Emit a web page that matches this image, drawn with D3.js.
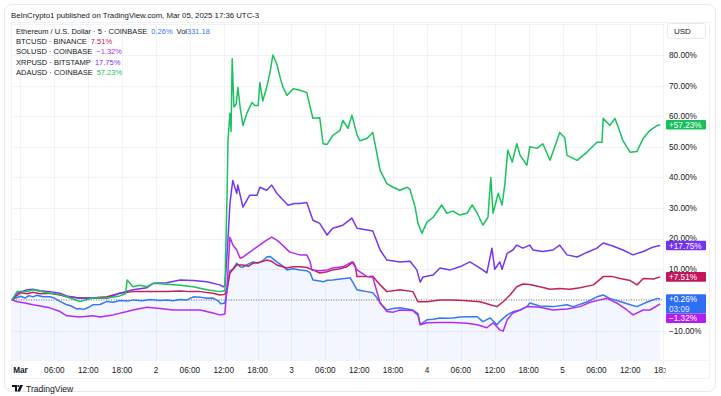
<!DOCTYPE html>
<html>
<head>
<meta charset="utf-8">
<script src="https://cdn.jsdelivr.net/npm/d3@7/dist/d3.min.js"></script>
<style>
html,body{margin:0;padding:0;background:#fff;}
svg{display:block;font-family:"Liberation Sans",Arial,sans-serif;}
</style>
</head>
<body>
<svg id="chart" width="721" height="396"></svg>
<script>
// ---- data: [hours since Mar 1 00:00 (UTC-3), % change] ----
const eth = [[-1.5,0],[-0.6,0.8],[0,1.2],[0.8,0.6],[1.5,1.4],[2.2,1.0],[2.9,1.5],[4,1.0],[5.2,1.0],[6,0.6],[7,-0.5],[8.1,-1.5],[9,-2.0],[10,-3.0],[10.5,-2.8],[11.2,-3.1],[12,-2.5],[12.8,-1.6],[14.1,-1.5],[15.3,-0.5],[16.4,-0.8],[17.6,-0.2],[19,-0.4],[20,0],[21.5,-0.3],[23,0.1],[24.7,-0.2],[26,0],[27,-0.3],[28.3,0.1],[29.5,0],[30.6,1.0],[31.8,0.9],[33,0.5],[34.1,0.6],[35,-0.3],[35.5,-1.3],[36.2,-1.0],[36.6,3],[37.1,9.5],[37.6,10.0],[38.3,12.0],[38.9,10.8],[39.4,10.7],[40.1,11.5],[41.2,12.4],[42.1,12.0],[42.9,12.8],[43.6,14.0],[44.2,14.2],[44.7,13.5],[45.4,12.4],[46.5,11.0],[47.2,9.8],[48.3,10.2],[49.5,9.8],[50.7,9.5],[51.3,8.9],[51.8,6.5],[53,6.2],[53.6,5.9],[54.3,6.4],[55.3,6.5],[56.6,6.8],[57.8,7.1],[58.4,7.2],[59.1,5.0],[59.6,3.3],[60.5,3.0],[61.4,2.7],[62.4,2.3],[63.2,0.5],[63.7,-1.0],[64.9,-3.3],[66,-2.8],[67.2,-2.6],[68.5,-3.0],[69.5,-3.3],[70.4,-4.5],[70.8,-8.1],[72,-6.5],[73.1,-6.3],[74.3,-5.9],[75.5,-6.0],[76.6,-5.9],[77.8,-5.6],[79.1,-5.5],[80.9,-5.5],[81.9,-7.1],[83.2,-5.9],[84.4,-8.1],[84.9,-7.0],[86.2,-4.9],[87.2,-3.9],[88.5,-3.3],[89.7,-2.2],[90.2,-1.0],[92,-2.0],[94.3,-2.2],[96.8,-1.6],[97.9,-2.2],[100.3,-0.7],[102.1,1.0],[103.2,1.6],[104.4,0.5],[106.2,-0.5],[108,-1.6],[109.2,-2.2],[111,-0.7],[112.8,0.5],[113.3,0.26]];
const btc = [[-1.5,0],[-0.6,1.5],[0,2.3],[1.2,2.0],[2.2,2.5],[3.5,2.0],[5.2,2.2],[7,1.6],[8.2,1.0],[10.5,0.6],[12.8,0.6],[14,0.9],[15.3,1.0],[17.6,2.2],[19.9,2.7],[22.9,2.7],[25.9,2.7],[28.3,2.9],[30,2.7],[31.8,2.7],[34.1,2.2],[35.3,1.6],[36.2,1.8],[36.6,4],[37.1,8.8],[38.3,11.4],[39.4,11.4],[40.4,11.0],[41.2,12.0],[42.4,12.3],[43.6,13.0],[44.5,12.6],[45.4,11.4],[47.2,10.4],[48.3,10.8],[49.5,10.8],[50.7,10.6],[51.8,9.8],[53,8.8],[54.3,9.2],[55.3,9.8],[56.6,10.2],[57.8,10.8],[58.9,12.4],[59.3,11.0],[59.6,7.6],[61.4,7.6],[62.4,7.7],[63.7,4.9],[64.9,2.7],[66,3.0],[67.2,3.3],[69.5,2.7],[70.4,-0.6],[72,-0.6],[74.3,0],[76.6,0],[79.1,-0.3],[81.4,-0.6],[83.2,-1.6],[84.4,-2.2],[85.5,-0.6],[86.7,1.6],[87.9,4.3],[89,5.2],[90.2,5.0],[92,4.3],[93.8,3.5],[95.5,3.7],[97.3,3.5],[99.1,4.0],[101.5,4.9],[103.2,7.6],[104.9,7.6],[106.2,7.0],[108,6.3],[109.2,4.9],[110.3,7.0],[112.1,6.8],[113.3,7.51]];
const sol = [[-1.5,0],[-0.6,-0.6],[0.8,-1.0],[2.2,-1.6],[3.5,-2.0],[5.2,-2.6],[7,-3.8],[8.2,-5.2],[10.5,-5.6],[12.8,-5.2],[14.1,-5.6],[16.4,-4.9],[18.9,-3.8],[19.9,-3.3],[22.4,-2.4],[24.7,-2.8],[27,-3.3],[29.5,-3.3],[31.8,-3.3],[34.1,-4.3],[35.3,-4.9],[36.2,-4.6],[36.6,5],[37.1,20.5],[37.6,18],[38.3,16.3],[38.9,13.6],[39.4,14],[40.6,15.6],[41.9,17.3],[43.6,19.5],[44.5,20.5],[45.4,19.5],[46,18.6],[47.7,15.6],[49.5,14.7],[50.7,14.7],[51.3,12.5],[51.6,9.8],[53,9.5],[54.3,9.8],[55.3,10.4],[57.1,10.8],[58.7,12.4],[59.6,9.8],[61.4,7.6],[62.4,7.4],[63.7,-1.0],[64.9,-3.8],[66,-4.0],[67.2,-3.3],[69.5,-3.5],[70.4,-5.0],[70.8,-8.1],[72,-7.5],[74.3,-7.4],[76.6,-7.4],[79.1,-7.6],[80.9,-8.1],[82.6,-9.1],[83.7,-7.5],[84.9,-9.8],[85.5,-10.2],[86.2,-6.5],[87.2,-4.3],[88.5,-3.3],[89.7,-2.2],[92,-2.4],[94.3,-3.3],[96.8,-3.0],[99.1,-2.2],[100.9,-0.8],[102.6,0],[103.9,0.5],[105.6,-1.0],[107.4,-3.3],[108.5,-4.9],[110.3,-3.3],[111.5,-3.3],[113.3,-1.32]];
const xrp = [[-1.5,0],[-0.6,2.2],[1.2,3.3],[2.2,3.5],[3.5,3.0],[5.2,2.7],[7,2.2],[8.2,1.3],[10.5,0.5],[12.8,0.5],[15.3,0.5],[17.6,2.2],[19.9,3.3],[22.4,4.0],[23.5,5.4],[25.9,5.6],[28.3,6.5],[30.6,6.3],[33,5.9],[35.3,4.9],[35.9,4.3],[36.2,4.6],[36.6,15],[37.1,31.5],[37.6,39],[38.3,34.8],[38.5,37.5],[39.4,30.3],[40.6,34.2],[41.9,34.2],[42.4,36.8],[43.6,35.8],[44.5,37.5],[45.4,34.8],[46.5,32.6],[47.4,30.9],[48.5,31.5],[49.5,31.5],[50.7,31.8],[51.8,26],[53,25],[54.3,21.2],[55.3,23.4],[57.1,24.4],[58.7,26.7],[59.6,23.4],[61.4,22.8],[62.4,22.5],[63.7,16.3],[64.9,13],[67.2,12.4],[69,12.6],[70.2,9.8],[70.8,5.8],[71.3,7.5],[73.1,8.1],[74.3,10.4],[76.1,9.8],[77.8,10.8],[79.6,12.4],[81.4,10.4],[82.6,8.8],[83.5,16.9],[84,10],[84.9,12.4],[85.3,10],[86.2,15.2],[87.2,16.3],[87.9,17.9],[89,16.9],[90.2,17.9],[90.8,16.3],[92.5,15.8],[94.3,16.3],[95.5,17.9],[96.8,14.7],[98.6,14.0],[100.3,15.5],[102.1,16.9],[103.2,18.6],[104.9,17.6],[106.7,16.3],[108.5,14.7],[110.3,15.8],[112.1,17.3],[113.3,17.75]];
const ada = [[-1.5,0],[-0.6,2.7],[1.2,2.7],[2.2,3.3],[3.5,2.8],[5.2,2.2],[7,1.8],[8.2,1.0],[10.5,-0.5],[12.8,0.6],[15.3,0.6],[17.6,1.3],[18.6,2.0],[18.9,6.5],[19.9,4.3],[21.2,4.8],[22.4,4.3],[23.5,5.4],[25.9,5.1],[28.3,4.8],[30.6,4.3],[33,3.3],[35.3,2.7],[36.2,3.0],[36.6,35.8],[36.75,52],[37.1,61],[37.3,55],[37.5,78.8],[37.8,63],[38.2,64],[38.5,69.4],[38.9,63],[39.4,57],[40.1,61],[41,64.5],[41.5,63.5],[42.1,63.5],[42.4,71],[42.9,65],[43.6,69.4],[44.2,74.3],[44.7,80],[45.4,77],[46,72.6],[46.5,69.4],[47.2,66.8],[48.3,69],[49.5,68.5],[50.7,67.8],[51.3,63],[51.8,59.3],[53,59.5],[53.6,51],[54.3,50.8],[55.3,53.7],[56.6,55.4],[57.1,58.6],[58,56],[58.7,60.3],[59.6,54],[60.1,52],[61.4,52.8],[62.4,54.7],[63.7,42.3],[64.9,38],[66,36.8],[67.2,35.8],[68.5,36.8],[69,36],[69.9,30.3],[70.4,25],[71.1,21.8],[72,25.4],[73.1,27],[74.6,31],[75.5,28.3],[76.6,29],[77.8,27.7],[79.1,28.3],[80,31],[80.9,28.3],[81.9,24.4],[82.8,27],[83.3,40],[83.7,28.3],[84.6,34.8],[85.3,31],[85.8,38],[86.3,48.9],[87.1,45],[87.9,51],[88.5,47.2],[89.7,44],[90.2,50],[91.5,49.5],[92.5,51],[93.8,45.6],[95,52],[95.5,54.7],[96.4,53],[96.8,47.2],[98.6,45.6],[100.3,48.2],[102.1,51.5],[103,51.5],[103.2,59.3],[104.4,57],[105.3,59.3],[106.2,54.7],[106.7,52],[108,48.2],[109.2,48.5],[110.3,52.8],[111.5,55.4],[112.8,57],[113.3,57.23]];

const seriesNames = ["Ethereum / U.S. Dollar · 5 · COINBASE","BTCUSD · BINANCE","SOLUSD · COINBASE","XRPUSD · BITSTAMP","ADAUSD · COINBASE"];
const seriesLast = ["0.26%","7.51%","\u22121.32%","17.75%","57.23%"];
const badgeText = ["+0.26%","+7.51%","\u22121.32%","+17.75%","+57.23%"];
const ethVolume = "331.18";
const ethCountdown = "03:09";
const yTicks = [-10,10,20,30,40,50,60,70,80];
const gridTicks = [-10,0,10,20,30,40,50,60,70,80,90];
const xTickHours = [0,6,12,18,24,30,36,42,48,54,60,66,72,78,84,90,96,102,108,114];
const headerText = "BeInCrypto1 published on TradingView.com, Mar 05, 2025 17:36 UTC-3";

// ---- layout ----
const colors = ["#3579f5","#c8205c","#b42cf0","#7635f0","#18c25c"];
const badgeColors = ["#2f6ff6","#c2185b","#b41ef0","#7433f2","#18c05a"];
const L = 11, R = 663, T = 22, B = 360, AXR = 709, AXB = 378;

const svg = d3.select("#chart");
svg.append("rect").attr("x",4.5).attr("y",4.5).attr("width",711).attr("height",387)
  .attr("rx",7).attr("fill","#fff").attr("stroke","#e6e8ee");

const x = d3.scaleLinear().domain([-1.68, 113.8]).range([L, R]);
const y = d3.scaleLinear().domain([-10, 80]).range([330.5, 55]);

// frame
svg.append("rect").attr("x",L+0.5).attr("y",T+0.5).attr("width",AXR-L).attr("height",AXB-T)
  .attr("fill","none").attr("stroke","#f0f2f6");
svg.append("line").attr("x1",R+0.5).attr("x2",R+0.5).attr("y1",T).attr("y2",AXB).attr("stroke","#f0f2f6");
svg.append("line").attr("x1",L).attr("x2",AXR).attr("y1",B+0.5).attr("y2",B+0.5).attr("stroke","#f3f4f8");

// grid
const grid = svg.append("g");
grid.selectAll("line.h").data(gridTicks).join("line")
  .attr("x1",L).attr("x2",R).attr("y1",d=>Math.round(y(d))+0.5).attr("y2",d=>Math.round(y(d))+0.5)
  .attr("stroke","#f1f3f7");
grid.selectAll("line.v").data(xTickHours.filter(h=>x(h)<R)).join("line")
  .attr("y1",T).attr("y2",B).attr("x1",d=>Math.round(x(d))+0.5).attr("x2",d=>Math.round(x(d))+0.5)
  .attr("stroke","#f1f3f7");

// clip
svg.append("clipPath").attr("id","plot").append("rect").attr("x",L).attr("y",T).attr("width",R-L).attr("height",B-T);
svg.append("clipPath").attr("id","xlab").append("rect").attr("x",L).attr("y",B).attr("width",R-L+3).attr("height",AXB-B);

const plot = svg.append("g").attr("clip-path","url(#plot)");

// ETH area
const area = d3.area().x(d=>x(d[0])).y0(B).y1(d=>y(d[1]));
plot.append("path").datum(eth).attr("d",area).attr("fill","rgba(41,98,255,0.055)");

// zero line
plot.append("line").attr("x1",L).attr("x2",R).attr("y1",y(0)).attr("y2",y(0))
  .attr("stroke","#787b86").attr("stroke-width",1).attr("stroke-dasharray","1 1.5");

const line = d3.line().x(d=>x(d[0])).y(d=>y(d[1]));
const all = [eth,btc,sol,xrp,ada];
[0,1,2,3,4].forEach(i=>{
  plot.append("path").datum(all[i]).attr("d",line).attr("fill","none")
    .attr("stroke",colors[i]).attr("stroke-width",1.5).attr("stroke-linejoin","round");
});

// y axis labels
svg.append("g").selectAll("text").data(yTicks).join("text")
  .attr("x",669).attr("y",d=>y(d)+(d===20?2.2:3)).attr("font-size",8.2).attr("fill","#131722")
  .text(d=>(d<0?"\u2212":"")+Math.abs(d).toFixed(2)+"%");

// x axis labels
const xl = svg.append("g").attr("clip-path","url(#xlab)");
xl.selectAll("text").data(xTickHours).join("text")
  .attr("x",d=>x(d)).attr("y",373).attr("text-anchor","middle").attr("font-size",8.2)
  .attr("fill","#131722").attr("font-weight",d=>d===0?"bold":"normal")
  .text(d=>{ if(d%24===0) return d===0?"Mar":String(1+d/24); return String(d%24).padStart(2,"0")+":00"; });

// USD box
svg.append("rect").attr("x",667.5).attr("y",23.5).attr("width",38).attr("height",15).attr("rx",3)
  .attr("fill","#fff").attr("stroke","#e6e8ee");
svg.append("text").attr("x",674).attr("y",34).attr("font-size",8).attr("fill","#131722").text("USD");

// badges
function badge(i, cy, h, lines){
  svg.append("rect").attr("x",666).attr("y",cy-4.8).attr("width",40).attr("height",h).attr("rx",1)
    .attr("fill",badgeColors[i]);
  lines.forEach((t,k)=>svg.append("text").attr("x",669).attr("y",cy+3+k*9.6)
    .attr("font-size",8.2).attr("fill","#fff").attr("fill-opacity",k?0.85:1).text(t));
}
badge(4, y(57.23), 9.6, [badgeText[4]]);
badge(3, y(17.75), 9.6, [badgeText[3]]);
badge(1, y(7.51), 9.6, [badgeText[1]]);
badge(0, y(0.26), 19.2, [badgeText[0], ethCountdown]);
badge(2, y(0.26)+19.2, 9.6, [badgeText[2]]);

// header
svg.append("text").attr("x",11).attr("y",17.5).attr("font-size",7.8).attr("fill","#131722").text(headerText);

// legend
const lg = svg.append("g");
seriesNames.forEach((n,i)=>{
  const t = lg.append("text").attr("x",16).attr("y",34+i*10.2).attr("font-size",7.5).attr("fill","#131722");
  t.append("tspan").text(n);
  t.append("tspan").attr("dx",4).attr("fill",colors[i]).text(seriesLast[i]);
  if(i===0){
    t.append("tspan").attr("dx",4).attr("fill","#131722").text("Vol");
    t.append("tspan").attr("fill",colors[0]).text(ethVolume);
  }
});

// TradingView logo
const lgo = svg.append("g").attr("transform","translate(12,385)");
lgo.append("path").attr("d","M0 0H5V6.5H3V2H0Z").attr("fill","#131722");
lgo.append("circle").attr("cx",6.3).attr("cy",1).attr("r",1).attr("fill","#131722");
lgo.append("path").attr("d","M8 0H11L8 6.5H5.2Z").attr("fill","#131722");
svg.append("text").attr("x",26).attr("y",392).attr("font-size",8.6).attr("fill","#131722").text("TradingView");
</script>
</body>
</html>
